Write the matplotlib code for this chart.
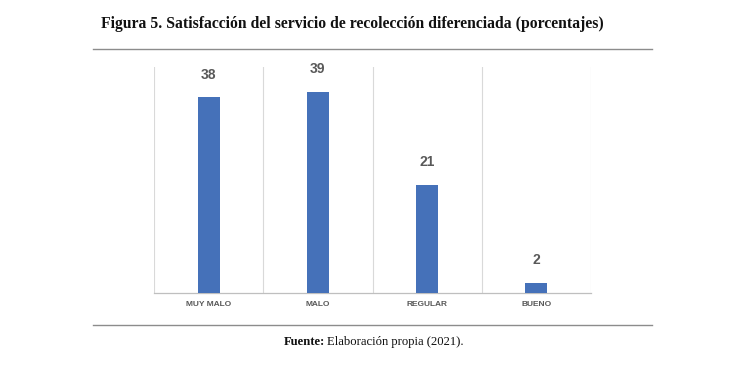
import matplotlib
matplotlib.use("Agg")
import matplotlib.pyplot as plt
from matplotlib.lines import Line2D

categories = ["MUY MALO", "MALO", "REGULAR", "BUENO"]
values = [38, 39, 21, 2]
title = "Figura 5. Satisfacción del servicio de recolección diferenciada (porcentajes)"
source_bold = "Fuente:"
source_rest = "Elaboración propia (2021)."

W, H = 750, 370
fig = plt.figure(figsize=(W / 100, H / 100), dpi=100)
ax = fig.add_axes([154 / W, (H - 293) / H, 437 / W, 226 / H])

x = list(range(len(categories)))
ax.bar(x, values, width=0.2, color="#4571B9", zorder=3)
for xi, v in zip(x, values):
    ax.annotate(str(v), (xi, v), xytext=(0, 11), textcoords="offset points",
                ha="center", va="bottom", fontsize=10, fontweight="bold",
                color="#595959", family="Liberation Sans")

ax.set_xlim(-0.5, len(categories) - 0.5)
ax.set_ylim(0, 43.8)
ax.set_xticks(x)
ax.set_xticklabels(categories, fontsize=6, fontweight="bold", color="#595959",
                   family="Liberation Sans")
ax.set_xticks([i - 0.5 for i in range(len(categories) + 1)], minor=True)
ax.tick_params(axis="x", which="both", length=0, pad=6)
ax.set_yticks([])
ax.grid(which="minor", axis="x", color="#d9d9d9", linewidth=0.8, zorder=0)
for s in ["top", "left", "right"]:
    ax.spines[s].set_visible(False)
ax.spines["bottom"].set_color("#bfbfbf")
ax.spines["bottom"].set_linewidth(0.9)

fig.text(352 / W, 1 - 24 / H, title, ha="center", va="center", fontsize=11.3,
         fontweight="bold", family="Liberation Serif", color="#111111")

for yy in [48.5, 325]:
    fig.add_artist(Line2D([93 / W, 652 / W], [1 - yy / H, 1 - yy / H],
                          transform=fig.transFigure, color="#8c8c8c", linewidth=1.0))

t1 = fig.text(284 / W, 1 - 342 / H, source_bold, ha="left", va="center",
              fontsize=9.1, fontweight="bold", family="Liberation Serif", color="#111111")
ax.annotate(source_rest, xy=(1, 0), xycoords=t1, xytext=(1.2, 0),
            textcoords="offset points", va="bottom", ha="left",
            fontsize=9.1, family="Liberation Serif", color="#111111",
            annotation_clip=False)

fig.savefig("out.png", dpi=100, facecolor="white")
